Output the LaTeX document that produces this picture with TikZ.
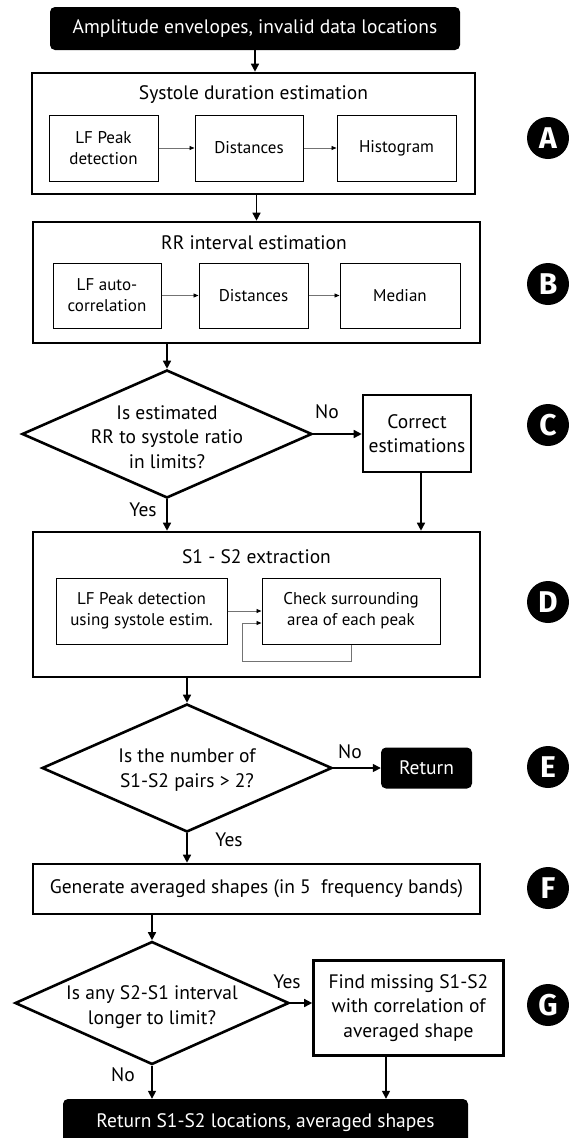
\documentclass[tikz,border=0pt]{standalone}
\usepackage{fontspec}
\setmainfont{PT Sans}
\newfontfamily\lettfont{Fira Sans}
\usepackage{graphicx}
\usetikzlibrary{arrows.meta,shapes.geometric}
\tikzset{
 mainfont/.style={font=\fontsize{19.5}{24.5}\selectfont},
 outer/.style={draw, line width=2.6pt, rectangle, inner sep=0pt, align=center, mainfont},
 inbox/.style={draw, line width=1pt, inner sep=0pt, align=center, font=\fontsize{17}{21}\selectfont},
 term/.style={fill=black, text=white, rounded corners=5pt, inner sep=0pt, mainfont},
 dia/.style={draw, diamond, line width=2.6pt, inner sep=0pt},
 arr/.style={-{Triangle[length=8pt,width=8pt]}, line width=1.5pt},
 thinarr/.style={-{Triangle[length=5pt,width=4pt,color=black]}, line width=0.9pt, draw=black!55},
 lbl/.style={mainfont, align=center, inner sep=0pt},
 circ/.style={circle, fill=black, minimum size=42pt, inner sep=0pt, text=white, font=\lettfont\bfseries\fontsize{30}{30}\selectfont}
}
\begin{document}
\begin{tikzpicture}[x=1pt,y=-1pt]
\useasboundingbox (0,0) rectangle (569,1138);
% top
\node[term, minimum width=410pt, minimum height=43pt] (top) at (255,28.5) {Amplitude envelopes, invalid data locations};
% A
\node[outer, minimum width=443pt, minimum height=121pt] (A) at (253.5,133.5) {};
\node[lbl] (At) at (253.5,95) {Systole duration estimation};
\node[inbox, minimum width=109pt, minimum height=66pt] (A1) at (103.5,148) {LF Peak\\detection};
\node[inbox, minimum width=108pt, minimum height=66pt] (A2) at (249,148) {Distances};
\node[inbox, minimum width=119pt, minimum height=66pt] (A3) at (396.5,148) {Histogram};
\draw[thinarr] (A1) -- (A2);
\draw[thinarr] (A2) -- (A3);
\draw[arr] (top.south) -- (top.south |- A.north);
% B
\node[outer, minimum width=447pt, minimum height=121pt] (B) at (256.5,282.5) {};
\node[lbl] (Bt) at (254,243) {RR interval estimation};
\node[inbox, minimum width=108pt, minimum height=65pt] (B1) at (107,295.5) {LF auto-\\correlation};
\node[inbox, minimum width=109pt, minimum height=65pt] (B2) at (253.5,295.5) {Distances};
\node[inbox, minimum width=120pt, minimum height=65pt] (B3) at (400,295.5) {Median};
\draw[thinarr] (B1) -- (B2);
\draw[thinarr] (B2) -- (B3);
\draw[arr] (B.north |- A.south) -- (B.north);
% C
\node[dia, minimum width=290pt, minimum height=128pt] (C) at (167,434) {};
\node[lbl] (Ct) at (167,437) {Is estimated\\RR to systole ratio\\in limits?};
\node[outer, minimum width=108pt, minimum height=77pt] (Corr) at (417,433.5) {Correct\\estimations};
\draw[arr] (C.north |- B.south) -- (C.north);
\draw[arr] (C.east) -- (C.east -| Corr.west);
\node[lbl] (CNo) at (327,412) {No};
\node[lbl] (CYes) at (143,510) {Yes};
% D
\node[outer, minimum width=447pt, minimum height=145pt] (D) at (256.5,604.5) {};
\node[lbl] (Dt) at (256.5,557) {S1 - S2 extraction};
\node[inbox, minimum width=171pt, minimum height=66pt] (D1) at (141.5,611) {LF Peak detection\\using systole estim.};
\node[inbox, minimum width=178pt, minimum height=66pt] (D2) at (351,611) {Check surrounding\\area of each peak};
\draw[arr] (C.south) -- (C.south |- D.north);
\coordinate (cx) at (421,0);
\draw[arr] (Corr.south -| cx) -- (cx |- D.north);
\draw[thinarr] (D1) -- (D2);
\coordinate (fb1) at (351,661);
\coordinate (fb2) at (242,661);
\coordinate (fb3) at (242,623);
\draw[thinarr] (D2.south) -- (fb1) -- (fb2) -- (fb3) -- (D2.west |- fb3);
% E
\node[dia, minimum width=290pt, minimum height=128pt] (E) at (187,768) {};
\node[lbl] (Et) at (187,770) {Is the number of\\S1-S2 pairs > 2?};
\node[term, minimum width=91pt, minimum height=41pt] (Ret) at (426.5,768) {Return};
\draw[arr] (E.north |- D.south) -- (E.north);
\draw[arr] (E.east) -- (Ret.west);
\node[lbl] (ENo) at (350,752) {No};
\node[lbl] (EYes) at (229,840) {Yes};
% F
\node[outer, minimum width=447pt, minimum height=50pt] (F) at (256.5,889) {Generate averaged shapes (in 5~ frequency bands)};
\draw[arr] (E.south) -- (E.south |- F.north);
% G
\node[dia, minimum width=274pt, minimum height=123pt] (G) at (152,1003) {};
\node[lbl] (Gt) at (152,1007) {Is any S2-S1 interval\\longer to limit?};
\node[outer, minimum width=190pt, minimum height=95pt] (Gb) at (408.5,1008) {Find missing S1-S2\\with correlation of\\averaged shape};
\draw[arr] (G.north |- F.south) -- (G.north);
\draw[arr] (G.east) -- (G.east -| Gb.west);
\node[lbl] (GYes) at (287,982) {Yes};
% final
\node[term, minimum width=405pt, minimum height=48pt] (fin) at (265.5,1123) {Return S1-S2 locations, averaged shapes};
\draw[arr] (G.south) -- (G.south |- fin.north);
\node[lbl] (GNo) at (123,1075) {No};
\coordinate (gx) at (386,0);
\draw[arr] (Gb.south -| gx) -- (gx |- fin.north);
% letters
\node[circ] (LA) at (548,138) {A};
\node[circ] (LB) at (548,284) {B};
\node[circ] (LC) at (548,425) {C};
\node[circ] (LD) at (548,602) {D};
\node[circ] (LE) at (548,767) {E};
\node[circ] (LF) at (548,888) {F};
\node[circ] (LG) at (548,1005) {G};
\end{tikzpicture}
\end{document}
